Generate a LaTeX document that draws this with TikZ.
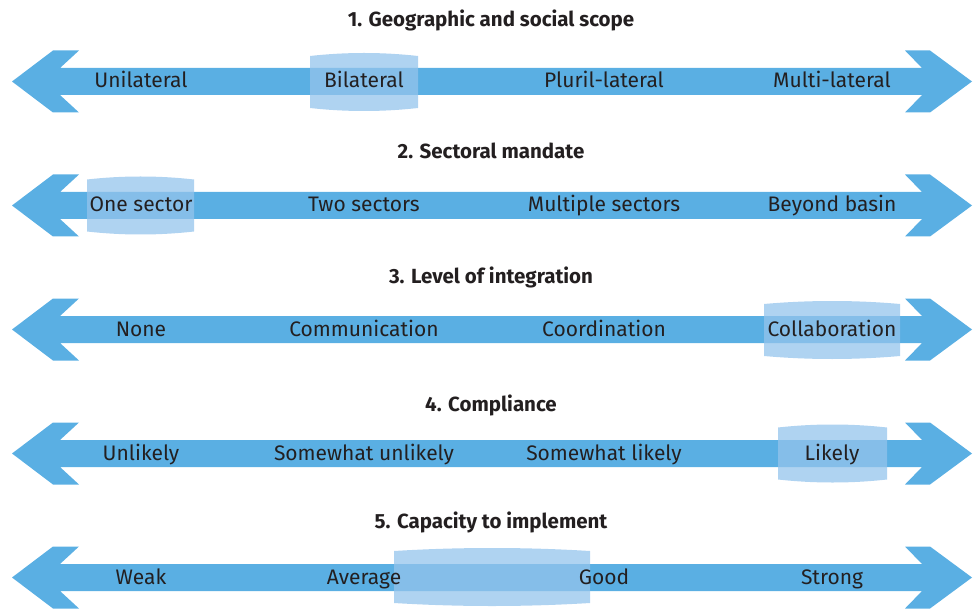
\documentclass[tikz,border=0pt]{standalone}
\usepackage{fontspec}
\setmainfont{Fira Sans}
\definecolor{shaftblue}{HTML}{5AAFE3}
\definecolor{markblue}{HTML}{94C4EC}
\definecolor{inkgray}{HTML}{231F20}
% highlight band over one step of a scale: #1 left x, #2 right x, #3 centre y
\newcommand{\markband}[3]{%
  \fill[markblue,opacity=.75] (#1,#3-26) .. controls ({#1+(#2-#1)/3},#3-30) and ({#2-(#2-#1)/3},#3-30) .. (#2,#3-26)
    -- (#2,#3+26) .. controls ({#2-(#2-#1)/3},#3+30) and ({#1+(#2-#1)/3},#3+30) .. (#1,#3+26) -- cycle;}
\begin{document}
\begin{tikzpicture}[x=1pt,y=-1pt,
  every node/.style={text=inkgray,inner sep=0pt,anchor=base},
  steplabel/.style={font=\fontsize{21}{24}\selectfont},
  scaletitle/.style={font=\fontsize{20.5}{24}\selectfont\bfseries}]
  \useasboundingbox (0,0) rectangle (973,609);
  % double arrows
  \foreach \c in {81.5,205.5,329.5,453.5,577.5}
    \fill[shaftblue] (12,\c) -- (53,\c-31) -- (79,\c-31) -- (60,\c-13.5) -- (922,\c-13.5) -- (905,\c-31)
      -- (930,\c-31) -- (972,\c) -- (930,\c+31) -- (905,\c+31) -- (922,\c+13.5) -- (60,\c+13.5)
      -- (79,\c+31) -- (53,\c+31) -- cycle;
  % highlighted steps
  \markband{310}{418}{82}
  \markband{87}{194}{205.5}
  \markband{764}{900}{330}
  \markband{778}{887}{453.5}
  \markband{394}{590}{577}
  % titles
  \node [scaletitle] (t1) at (491,27) {1. Geographic and social scope};
  \node [scaletitle] (t2) at (491,158.5) {2. Sectoral mandate};
  \node [scaletitle] (t3) at (491,283.5) {3. Level of integration};
  \node [scaletitle] (t4) at (491,411.5) {4. Compliance};
  \node [scaletitle] (t5) at (491,528.5) {5. Capacity to implement};
  % steps
  \node [steplabel] (a1) at (141,88) {Unilateral};
  \node [steplabel] (a2) at (364,88) {Bilateral};
  \node [steplabel] (a3) at (604,88) {Pluril-lateral};
  \node [steplabel] (a4) at (832,88) {Multi-lateral};
  \node [steplabel] (b1) at (141,212) {One sector};
  \node [steplabel] (b2) at (364,212) {Two sectors};
  \node [steplabel] (b3) at (604,212) {Multiple sectors};
  \node [steplabel] (b4) at (832,212) {Beyond basin};
  \node [steplabel] (c1) at (141,336) {None};
  \node [steplabel] (c2) at (364,336) {Communication};
  \node [steplabel] (c3) at (604,336) {Coordination};
  \node [steplabel] (c4) at (832,336) {Collaboration};
  \node [steplabel] (d1) at (141,460) {Unlikely};
  \node [steplabel] (d2) at (364,460) {Somewhat unlikely};
  \node [steplabel] (d3) at (604,460) {Somewhat likely};
  \node [steplabel] (d4) at (832,460) {Likely};
  \node [steplabel] (e1) at (141,584) {Weak};
  \node [steplabel] (e2) at (364,584) {Average};
  \node [steplabel] (e3) at (604,584) {Good};
  \node [steplabel] (e4) at (832,584) {Strong};
\end{tikzpicture}
\end{document}
